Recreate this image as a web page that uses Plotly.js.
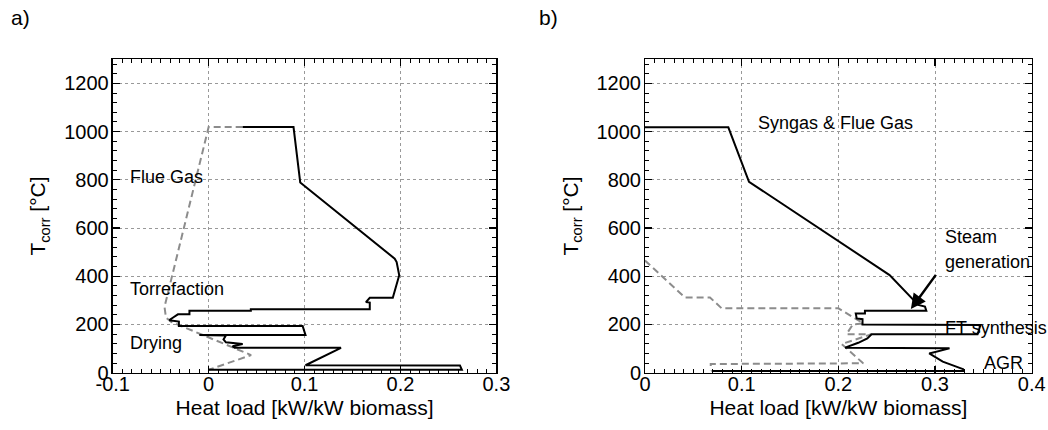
<!DOCTYPE html>
<html>
<head>
<meta charset="utf-8">
<script src="https://cdn.plot.ly/plotly-3.0.1.min.js"></script>
<style>html,body{margin:0;padding:0;background:#fff}#chart{width:1048px;height:430px}</style>
</head>
<body>
<div id="chart"></div>
<script>
// Panel a) – torrefaction process grand composite curve
const aSolidHeat = [0.0355, 0.0885, 0.0955, 0.194, 0.196, 0.1987, 0.192, 0.168, 0.164, 0.168, 0.168, 0.044, 0.044, -0.020, -0.020, -0.032, -0.037, -0.041, -0.031, -0.031, 0.098, 0.101, -0.0097, 0.018, 0.0155, 0.018, 0.0355, 0.025, 0.027, 0.138, 0.101, 0.262, 0.264, 0.0];
const aSolidTemp = [1019, 1019, 789, 473, 459, 404, 311, 311, 293, 291, 263, 263, 257, 257, 242, 242, 229, 218, 212, 194, 194, 156, 156, 154, 138, 126, 119, 110, 103, 103, 31, 30, 12, 12];
const aDashHeat = [0.0355, 0.0, -0.046, -0.0445, -0.039, 0.0443, 0.0];
const aDashTemp = [1019, 1019, 273, 229, 211, 73, 12];

// Panel b) – FT synthesis process grand composite curve
const bSolidHeat = [0.0, 0.0862, 0.1076, 0.253, 0.2826, 0.2896, 0.291, 0.2275, 0.2275, 0.218, 0.219, 0.225, 0.225, 0.347, 0.344, 0.2344, 0.230, 0.2206, 0.207, 0.315, 0.294, 0.308, 0.329, 0.329, 0.069];
const bSolidTemp = [1018, 1018, 792, 405, 281, 274, 257, 257, 246, 246, 225, 222, 200, 198, 159, 159, 142, 124, 104, 101, 80, 46, 15, 7, 7];
const bDashHeat = [0.0, 0.0414, 0.0672, 0.0793, 0.200, 0.2257, 0.215, 0.2085, 0.234, 0.2034, 0.2257, 0.068, 0.068];
const bDashTemp = [465, 312, 312, 267, 267, 205, 200, 160, 159, 119, 39, 36, 10];

// Tick labels
const xTicksA = [-0.1, 0, 0.1, 0.2, 0.3];
const xTickTextA = ['-0.1', '0', '0.1', '0.2', '0.3'];
const xTicksB = [0, 0.1, 0.2, 0.3, 0.4];
const xTickTextB = ['0', '0.1', '0.2', '0.3', '0.4'];
const yTicks = [0, 200, 400, 600, 800, 1000, 1200];
const yTickText = ['0', '200', '400', '600', '800', '1000', '1200'];

const W = 1048, H = 430;
const FONT = 'Liberation Sans, Arial, sans-serif';
const X_TITLE = 'Heat load [kW/kW biomass]';
const Y_TITLE = 'T<sub>corr</sub> [°C]';

const traces = [
  {x: aDashHeat, y: aDashTemp, xaxis: 'x', yaxis: 'y', mode: 'lines',
   line: {color: '#8c8c8c', width: 2, dash: '7px,4px'}, hoverinfo: 'skip'},
  {x: aSolidHeat, y: aSolidTemp, xaxis: 'x', yaxis: 'y', mode: 'lines',
   line: {color: '#000', width: 2}, hoverinfo: 'skip'},
  {x: bDashHeat, y: bDashTemp, xaxis: 'x2', yaxis: 'y2', mode: 'lines',
   line: {color: '#8c8c8c', width: 2, dash: '7px,4px'}, hoverinfo: 'skip'},
  {x: bSolidHeat, y: bSolidTemp, xaxis: 'x2', yaxis: 'y2', mode: 'lines',
   line: {color: '#000', width: 2}, hoverinfo: 'skip'},
  // empty traces so that the overlaid label axes are created and drawn
  {x: [], y: [], xaxis: 'x3', yaxis: 'y3', mode: 'lines', hoverinfo: 'skip'},
  {x: [], y: [], xaxis: 'x4', yaxis: 'y4', mode: 'lines', hoverinfo: 'skip'}
];

const yDomain = [(H - 372.7) / H, (H - 59.3) / H];

// Frame axes: linear ticks (major + minor), gridlines, no labels
function frameX(domain, range, anchor) {
  return {
    domain: domain, range: range, anchor: anchor,
    tickmode: 'linear', tick0: range[0], dtick: 0.1,
    ticks: 'inside', ticklen: 7, tickwidth: 1.2, tickcolor: '#000',
    minor: {dtick: 0.01, ticks: 'inside', ticklen: 4, tickwidth: 1, tickcolor: '#000', showgrid: false},
    showline: true, linecolor: '#000', linewidth: 1.5, mirror: 'allticks',
    showgrid: true, gridcolor: '#999', griddash: 'dot', gridwidth: 1,
    zeroline: false, showticklabels: false, automargin: false
  };
}
function frameY(anchor) {
  return {
    domain: yDomain, range: [0, 1300], anchor: anchor,
    tickmode: 'linear', tick0: 0, dtick: 200,
    ticks: 'inside', ticklen: 7, tickwidth: 1.2, tickcolor: '#000',
    minor: {dtick: 40, ticks: 'inside', ticklen: 4, tickwidth: 1, tickcolor: '#000', showgrid: false},
    showline: true, linecolor: '#000', linewidth: 1.5, mirror: 'allticks',
    showgrid: true, gridcolor: '#999', griddash: 'dot', gridwidth: 1,
    zeroline: false, showticklabels: false, automargin: false
  };
}
// Label axes: overlaying the frame axes, carry tick labels and titles only
function labelX(over, domain, range, anchor, vals, text) {
  return {
    overlaying: over, domain: domain, range: range, anchor: anchor, side: 'bottom',
    tickmode: 'array', tickvals: vals, ticktext: text, ticks: '',
    showline: false, showgrid: false, zeroline: false,
    ticklabelstandoff: -3,
    tickfont: {family: FONT, size: 20, color: '#000'},
    title: {text: X_TITLE, font: {family: FONT, size: 21, color: '#000'}, standoff: 6},
    automargin: false
  };
}
function labelY(over, anchor) {
  return {
    overlaying: over, domain: yDomain, range: [0, 1300], anchor: anchor, side: 'left',
    tickmode: 'array', tickvals: yTicks, ticktext: yTickText, ticks: '',
    showline: false, showgrid: false, zeroline: false,
    ticklabelstandoff: 3,
    tickfont: {family: FONT, size: 20, color: '#000'},
    title: {text: Y_TITLE, font: {family: FONT, size: 21, color: '#000'}, standoff: 12},
    automargin: false
  };
}

const lab = (t, x, y, xr, yr) => ({text: t, x: x, y: y, xref: xr, yref: yr,
  xanchor: 'left', yanchor: 'middle', showarrow: false,
  font: {family: FONT, size: 18, color: '#000'}});

const domA = [112.7 / W, 496.4 / W];
const domB = [645 / W, 1031.7 / W];

const layout = {
  width: W, height: H,
  margin: {l: 0, r: 0, t: 0, b: 0},
  paper_bgcolor: '#fff', plot_bgcolor: '#fff',
  showlegend: false,
  xaxis: frameX(domA, [-0.1, 0.3], 'y'),
  yaxis: frameY('x'),
  xaxis2: frameX(domB, [0, 0.4], 'y2'),
  yaxis2: frameY('x2'),
  xaxis3: labelX('x', domA, [-0.1, 0.3], 'y3', xTicksA, xTickTextA),
  yaxis3: labelY('y', 'x3'),
  xaxis4: labelX('x2', domB, [0, 0.4], 'y4', xTicksB, xTickTextB),
  yaxis4: labelY('y2', 'x4'),
  annotations: [
    {text: 'a)', x: 9 / W, y: 1 - 18 / H, xref: 'paper', yref: 'paper', xanchor: 'left', yanchor: 'middle',
     showarrow: false, font: {family: FONT, size: 21, color: '#000'}},
    {text: 'b)', x: 537 / W, y: 1 - 18 / H, xref: 'paper', yref: 'paper', xanchor: 'left', yanchor: 'middle',
     showarrow: false, font: {family: FONT, size: 21, color: '#000'}},
    lab('Flue Gas', -0.0839, 813, 'x', 'y'),
    lab('Torrefaction', -0.0839, 346, 'x', 'y'),
    lab('Drying', -0.0839, 124, 'x', 'y'),
    lab('Syngas &amp; Flue Gas', 0.1148, 1034, 'x2', 'y2'),
    lab('Steam', 0.308, 564, 'x2', 'y2'),
    lab('generation', 0.308, 460, 'x2', 'y2'),
    lab('FT synthesis', 0.3086, 187, 'x2', 'y2'),
    lab('AGR', 0.349, 39, 'x2', 'y2'),
    {x: 0.275, y: 264, ax: 0.302, ay: 412, xref: 'x2', yref: 'y2', axref: 'x2', ayref: 'y2',
     text: '', showarrow: true, arrowhead: 2, arrowsize: 1.2, arrowwidth: 2.5, arrowcolor: '#000'}
  ]
};

Plotly.newPlot('chart', traces, layout, {staticPlot: true, displayModeBar: false});
</script>
</body>
</html>
